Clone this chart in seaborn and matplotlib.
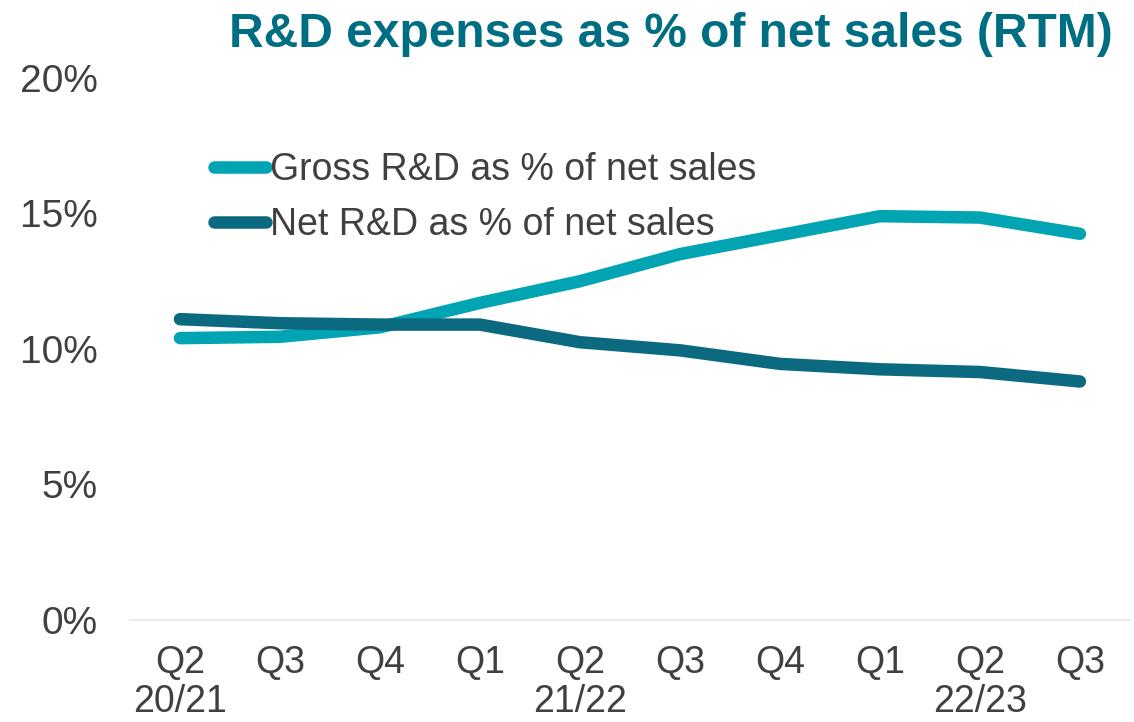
import numpy as np
import pandas as pd
import seaborn as sns
import matplotlib.pyplot as plt

quarters = ['Q2\n20/21', 'Q3', 'Q4', 'Q1', 'Q2\n21/22', 'Q3', 'Q4', 'Q1', 'Q2\n22/23', 'Q3']
gross_rd = [10.4, 10.45, 10.8, 11.7, 12.5, 13.5, 14.2, 14.9, 14.85, 14.25]
net_rd = [11.1, 10.95, 10.9, 10.9, 10.25, 9.95, 9.45, 9.25, 9.15, 8.8]
series_names = ['Gross R&D as % of net sales', 'Net R&D as % of net sales']
yticks = [0, 5, 10, 15, 20]

df = pd.DataFrame({
    'pos': list(range(len(quarters))) * 2,
    'value': gross_rd + net_rd,
    'series': [series_names[0]] * len(quarters) + [series_names[1]] * len(quarters),
})

sns.set_style('white')
plt.rcParams['font.family'] = ['Liberation Sans', 'DejaVu Sans']

fig = plt.figure(figsize=(11.34, 7.22), dpi=100)
ax = fig.add_axes([0.1146, 0.1413, 0.8818, 0.7507])

palette = {series_names[0]: '#00A4B3', series_names[1]: '#0B6A80'}
sns.lineplot(data=df, x='pos', y='value', hue='series', palette=palette,
             linewidth=9, ax=ax, solid_capstyle='round', solid_joinstyle='round')

ax.set_xlim(-0.5, len(quarters) - 0.5)
ax.set_ylim(0, 20)
ax.set_xticks(range(len(quarters)))
ax.set_xticklabels(quarters, fontsize=27, color='#404040', linespacing=1.1)
ax.set_yticks(yticks)
ax.set_yticklabels([f'{t}%' for t in yticks], fontsize=28, color='#404040')
ax.tick_params(axis='x', length=0, pad=18)
ax.tick_params(axis='y', length=0, pad=23)
ax.set_xlabel('')
ax.set_ylabel('')
for s in ['top', 'right', 'left']:
    ax.spines[s].set_visible(False)
ax.spines['bottom'].set_color('#E6ECEC')
ax.spines['bottom'].set_linewidth(1.5)

leg = ax.legend(loc='upper left', bbox_to_anchor=(0.05, 0.925), frameon=False,
                fontsize=27, handlelength=1.4, handletextpad=0.1, labelspacing=0.5)
for t in leg.get_texts():
    t.set_color('#404040')
for line in leg.get_lines():
    line.set_linewidth(9)
    line.set_solid_capstyle('round')

fig.text(0.592, 0.952, 'R&D expenses as % of net sales (RTM)', ha='center', va='center',
         fontsize=34.5, fontweight='bold', color='#006E82')

fig.savefig('out.png', dpi=100)
